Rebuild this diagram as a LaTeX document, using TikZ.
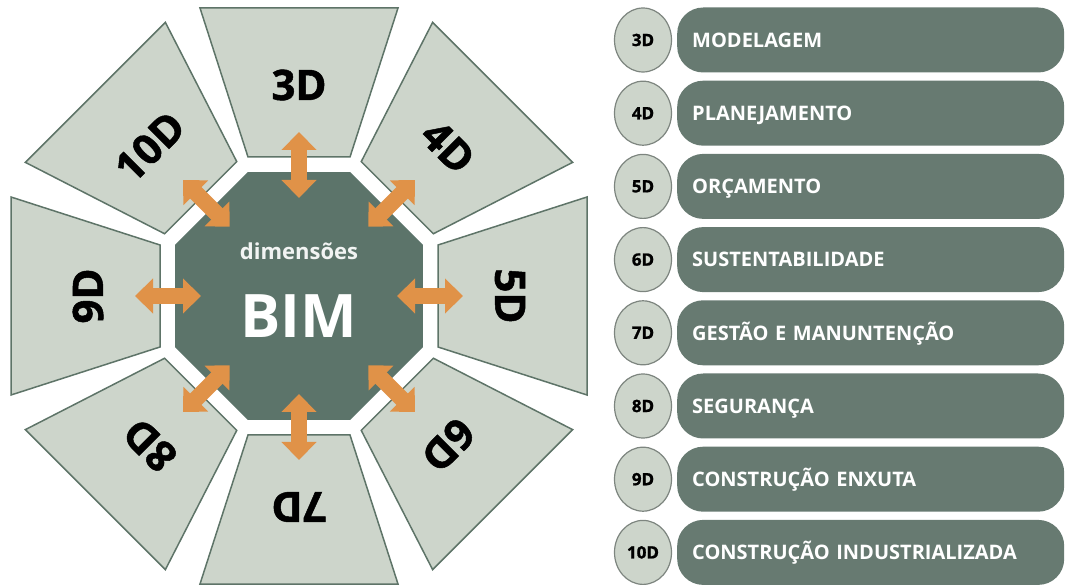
\documentclass[tikz,border=0pt]{standalone}
\usepackage{fontspec}
\setmainfont{Open Sans}
\newfontfamily\heavyfont{Open Sans}[BoldFeatures={FakeBold=1.2}]
\usepackage{tikz}
\usetikzlibrary{calc, shapes.geometric, arrows.meta}

\definecolor{panelfill}{RGB}{205,213,203}
\definecolor{panelline}{RGB}{94,116,104}
\definecolor{octfill}{RGB}{92,116,106}
\definecolor{pillfill}{RGB}{103,122,113}
\definecolor{arrowfill}{RGB}{224,146,72}
\definecolor{ringline}{RGB}{125,133,127}

\tikzset{
  panel/.style={draw=panelline, fill=panelfill, line width=1.5pt, line join=miter},
  dimlabel/.style={font=\fontsize{42}{46}\heavyfont\bfseries, inner sep=0pt},
  dimarrow/.style={draw=arrowfill, line width=16pt, {Triangle[width=34pt,length=18pt]}-{Triangle[width=34pt,length=18pt]}},
  ring/.style={ellipse, draw=ringline, fill=panelfill, line width=1.2pt, minimum width=57pt, minimum height=64pt, inner sep=0pt, font=\fontsize{17}{20}\heavyfont\bfseries},
  pill/.style={fill=pillfill, rounded corners=26pt, anchor=west, minimum height=65pt, text width=357pt, inner xsep=15pt, align=left, text height=14.5pt, text depth=0pt, text=white, font=\fontsize{20}{22}\selectfont\bfseries}
}

\begin{document}
\begin{tikzpicture}[x=1pt, y=1pt]
  \useasboundingbox (0,0) rectangle (1066,584);
  \coordinate (c) at (299,288);

  \node[regular polygon, regular polygon sides=8, minimum size=268pt, inner sep=0pt, fill=octfill]  (oct)  at (c)  {};
  \node[anchor=base, text=white!92!octfill, font=\fontsize{22}{24}\selectfont\bfseries]               (dim)  at (299,324)  {dimensões};
  \node[anchor=base, text=white, font=\fontsize{60}{64}\selectfont\bfseries]                          (bim)  at (299,246)  {BIM};

  \foreach \a/\lab in {90/3D, 45/4D, 0/5D, -45/6D, -90/7D, -135/8D, 180/9D, 135/10D}{
    \draw[panel, shift={(c)}, rotate=\a-90] (-51,139) -- (51,139) -- (99,288) -- (-99,288) -- cycle;
    \node[dimlabel, rotate=\a-90]  (d\lab)   at ($(c)+(\a:211)$)  {\lab};
    \coordinate                    (in\lab)  at ($(c)+(\a:98)$);
    \coordinate                    (out\lab) at ($(c)+(\a:164)$);
    \draw[dimarrow] (in\lab) -- (out\lab);
  }

  \foreach \lab/\txt [count=\i from 0] in {3D/MODELAGEM, 4D/PLANEJAMENTO, 5D/ORÇAMENTO, 6D/SUSTENTABILIDADE, 7D/GESTÃO E MANUNTENÇÃO, 8D/SEGURANÇA, 9D/CONSTRUÇÃO ENXUTA, 10D/CONSTRUÇÃO INDUSTRIALIZADA}{
    \node[ring]  (r\lab)  at (643, 544-73.2*\i)  {\lab};
    \node[pill]  (p\lab)  at (677, 544-73.2*\i)  {\txt};
  }
\end{tikzpicture}
\end{document}
